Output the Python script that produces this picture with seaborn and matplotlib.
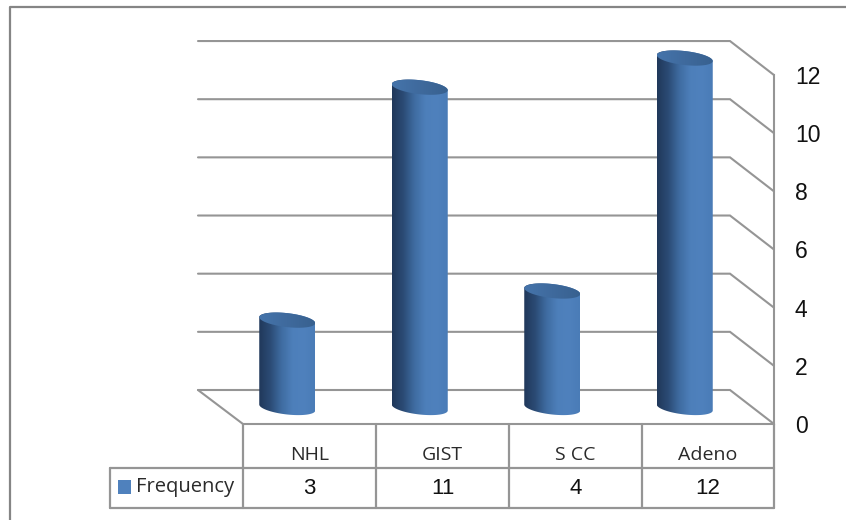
import numpy as np
import pandas as pd
import seaborn as sns
import matplotlib
matplotlib.use('Agg')
import matplotlib.pyplot as plt
from matplotlib.colors import LinearSegmentedColormap
from matplotlib.patches import Polygon, Rectangle

categories = ['NHL', 'GIST', 'S CC', 'Adeno']
frequency = [3, 11, 4, 12]
value_ticks = [0, 2, 4, 6, 8, 10, 12]
series_name = 'Frequency'

W, H = 846, 520
LINE = '#959595'
sns.set_theme(style='white')
plt.rcParams['font.family'] = ['Open Sans', 'DejaVu Sans']


def px_axes(fig, left, top, right, bottom):
    return fig.add_axes([left / W, 1 - bottom / H, (right - left) / W, (bottom - top) / H])


df = pd.DataFrame({'category': categories, 'frequency': frequency})
fig = plt.figure(figsize=(W / 100, H / 100), dpi=100, facecolor='white')

# background layer in pixels: frame, walls, table
bg = fig.add_axes([0, 0, 1, 1], zorder=0)
bg.set_xlim(0, W)
bg.set_ylim(H, 0)
bg.axis('off')
bg.plot([10, 10, W], [H, 7, 7], color='#858585', lw=1.6)

step = 29.08
for v in value_ticks:
    back = 390 - v * step
    front = 424 - v * step
    bg.plot([198, 730, 774], [back, back, front], color=LINE, lw=1.5, solid_joinstyle='miter')
bg.plot([198, 243, 774], [390, 424, 424], color=LINE, lw=1.5)

# data table under the plot
edges = [243, 376, 509, 642, 774]
bg.plot([110, 774], [468, 468], color=LINE, lw=1.6)
bg.plot([110, 774], [508, 508], color=LINE, lw=1.6)
bg.plot([110, 110], [468, 508], color=LINE, lw=1.6)
for x in edges:
    bg.plot([x, x], [424, 508], color=LINE, lw=1.6)
for i, name in enumerate(categories):
    mid = (edges[i] + edges[i + 1]) / 2
    bg.text(mid, 455, name, ha='center', va='center', fontsize=14, color='#2a2a2a')
    bg.text(mid, 488.5, str(frequency[i]), ha='center', va='center', fontsize=16,
            family=['Liberation Sans', 'DejaVu Sans'], color='#111111')
bg.add_patch(Rectangle((118, 480), 13, 14, facecolor='#4f81bd', edgecolor='none'))
bg.text(136, 487, series_name, ha='left', va='center', fontsize=14.5, color='#2a2a2a')

# value axis on the front right edge
val = px_axes(fig, 700, 75, 774, 424)
val.patch.set_alpha(0)
val.set_ylim(0, 12)
val.set_xticks([])
val.yaxis.tick_right()
val.set_yticks(value_ticks)
val.tick_params(axis='y', length=0, pad=15, labelsize=16.5, labelcolor='#111111')
for lab in val.get_yticklabels():
    lab.set_family(['Liberation Sans', 'DejaVu Sans'])
sns.despine(ax=val, left=True, top=True, bottom=True, right=False)
val.spines['right'].set_color(LINE)
val.spines['right'].set_linewidth(1.5)

# cylinders, axes is taller than the 0-12 range so the end caps are not cut off
scale = 29.12
y_base = 407.5
top_px, bottom_px = 30, 430
ylim = ((y_base - bottom_px) / scale, (y_base - top_px) / scale)
ax = px_axes(fig, 221, top_px, 751, bottom_px)
ax.patch.set_alpha(0)
sns.barplot(data=df, x='category', y='frequency', width=56 / 132.5, ax=ax, color='#4f81bd', zorder=2)
ax.axis('off')

body_cmap = LinearSegmentedColormap.from_list(
    'body', ['#20385a', '#2b4b75', '#3f6ca1', '#4d7fba', '#4f81bd', '#4a7cb7'])
cap_cmap = LinearSegmentedColormap.from_list('cap', ['#4574ab', '#3f6a9d', '#38618f'])
ry = 7 / scale
tilt = 3 / scale
for bar in list(ax.patches):
    x0, w, h = bar.get_x(), bar.get_width(), bar.get_height()
    bar.set_visible(False)
    cx = x0 + w / 2
    t_low = np.linspace(np.pi, 2 * np.pi, 60)
    t_up = np.linspace(0, np.pi, 60)
    low = np.c_[cx + w / 2 * np.cos(t_low), ry * np.sin(t_low) - tilt * np.cos(t_low)]
    top = np.c_[cx + w / 2 * np.cos(t_up), h + ry * np.sin(t_up) - tilt * np.cos(t_up)]
    body = Polygon(np.r_[low, top], closed=True, transform=ax.transData, facecolor='none', edgecolor='none')
    ax.add_patch(body)
    im = ax.imshow(np.linspace(0, 1, 128)[None, :], extent=(x0, x0 + w, -1, h + 1), aspect='auto',
                   cmap=body_cmap, zorder=3, interpolation='bilinear')
    im.set_clip_path(body)
    t = np.linspace(0, 2 * np.pi, 120)
    cap_pts = np.c_[cx + w / 2 * np.cos(t), h + ry * np.sin(t) - tilt * np.cos(t)]
    cap = Polygon(cap_pts, closed=True, transform=ax.transData, facecolor='none', edgecolor='none')
    ax.add_patch(cap)
    im2 = ax.imshow(np.linspace(0, 1, 64)[None, :], extent=(x0, x0 + w, h - 1, h + 1), aspect='auto',
                    cmap=cap_cmap, zorder=4, interpolation='bilinear')
    im2.set_clip_path(cap)
ax.set_xlim(-0.5, 3.5)
ax.set_ylim(*ylim)

fig.savefig('out.png', dpi=100)
